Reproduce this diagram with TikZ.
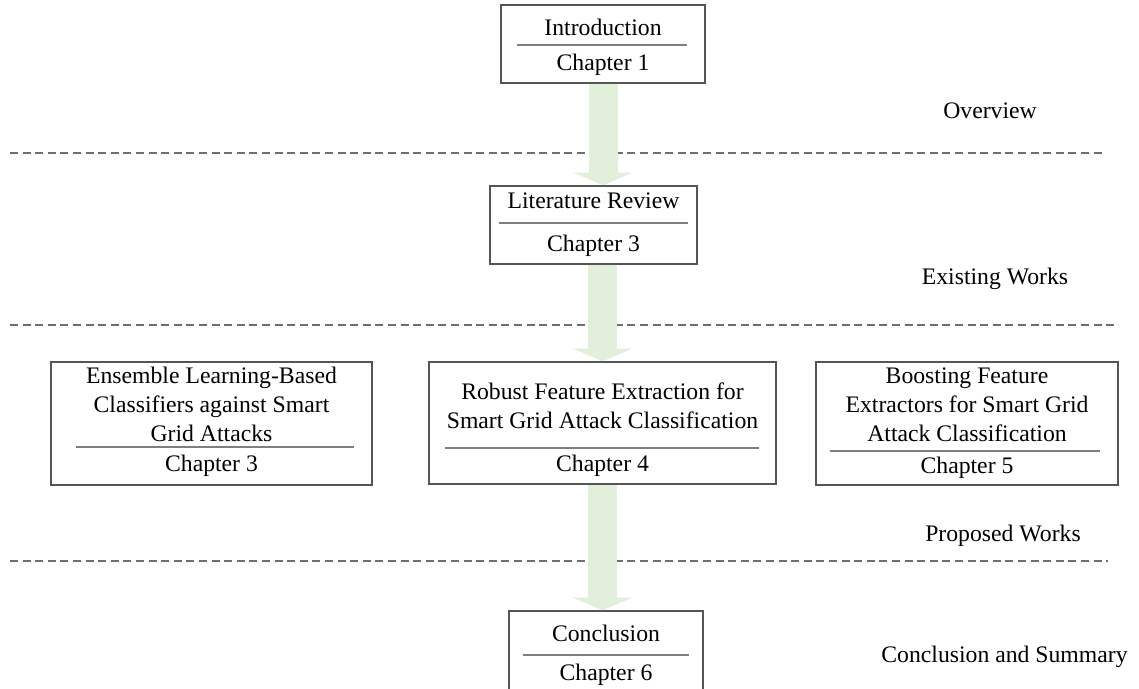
\documentclass[tikz,border=0pt]{standalone}
\usepackage{fontspec}
\setmainfont{Liberation Serif}
\usetikzlibrary{arrows.meta,fit}
\definecolor{frame}{HTML}{555555}
\definecolor{rulegray}{HTML}{7F7F7F}
\definecolor{dashgray}{HTML}{6E6E6E}
\definecolor{flowgreen}{HTML}{E2EFDA}
\tikzset{
  box/.style={draw=frame, line width=0.75pt, fill=white, inner sep=0pt},
  txt/.style={anchor=base, inner sep=0pt, font=\fontsize{11.85}{14}\selectfont},
  sep/.style={draw=rulegray, line width=1pt},
  phase/.style={draw=dashgray, line width=0.75pt, dash pattern=on 4pt off 2.3pt},
  flow/.style={draw=flowgreen, line width=14.5pt,
    -{Triangle[width=29.5pt, length=6.3pt, fill=flowgreen]}}
}
\begin{document}
\begin{tikzpicture}[x=0.5pt, y=-0.5pt]
\useasboundingbox (0,0) rectangle (1139,689);
\clip (0,0) rectangle (1139,689);

% phase separators
\draw[phase] (10,153) -- (1106,153);
\draw[phase] (10,325) -- (1114,325);
\draw[phase] (10,561) -- (1108,561);

% phase labels
\node[txt] (lblA) at (990,119) {Overview};
\node[txt] (lblB) at (995,285) {Existing Works};
\node[txt] (lblC) at (1003,541) {Proposed Works};
\node[txt] (lblD) at (1004.5,662.5) {Conclusion and Summary};

% chapter boxes
\node[box, fit={(501,5) (705,83)}] (intro) {};
\node[box, fit={(490,186) (697,264)}] (lit) {};
\node[box, fit={(51,362) (372,485)}] (ens) {};
\node[box, fit={(429,362) (776,484)}] (rob) {};
\node[box, fit={(816,362) (1118,485)}] (boost) {};
\node[box, fit={(509,611) (703,694)}] (concl) {};

% flow arrows
\draw[flow] (intro.south) -- (lit.north -| intro.south);
\draw[flow] (lit.south -| rob.north) -- (rob.north);
\draw[flow] (rob.south) -- (concl.north -| rob.south);

% box contents
\node[txt] (introT) at (603,36) {Introduction};
\draw[sep] (517,45) -- (687,45);
\node[txt] (introC) at (603,71) {Chapter 1};

\node[txt] (litT) at (593.5,209) {Literature Review};
\draw[sep] (499,223) -- (688,223);
\node[txt] (litC) at (593.5,251.5) {Chapter 3};

\node[txt] (ensT1) at (211.5,383.5) {Ensemble Learning-Based};
\node[txt] (ensT2) at (211.5,412.5) {Classifiers against Smart};
\node[txt] (ensT3) at (211.5,441) {Grid Attacks};
\draw[sep] (76,447) -- (354,447);
\node[txt] (ensC) at (211.5,471) {Chapter 3};

\node[txt] (robT1) at (602.5,399) {Robust Feature Extraction for};
\node[txt] (robT2) at (602.5,428.5) {Smart Grid Attack Classification};
\draw[sep] (445,447.5) -- (759,447.5);
\node[txt] (robC) at (602.5,471) {Chapter 4};

\node[txt] (boostT1) at (967,383.5) {Boosting Feature};
\node[txt] (boostT2) at (967,412.5) {Extractors for Smart Grid};
\node[txt] (boostT3) at (967,441) {Attack Classification};
\draw[sep] (830,451) -- (1100,451);
\node[txt] (boostC) at (967,473) {Chapter 5};

\node[txt] (conclT) at (606,641.5) {Conclusion};
\draw[sep] (523,655) -- (689,655);
\node[txt] (conclC) at (606,680) {Chapter 6};
\end{tikzpicture}
\end{document}
